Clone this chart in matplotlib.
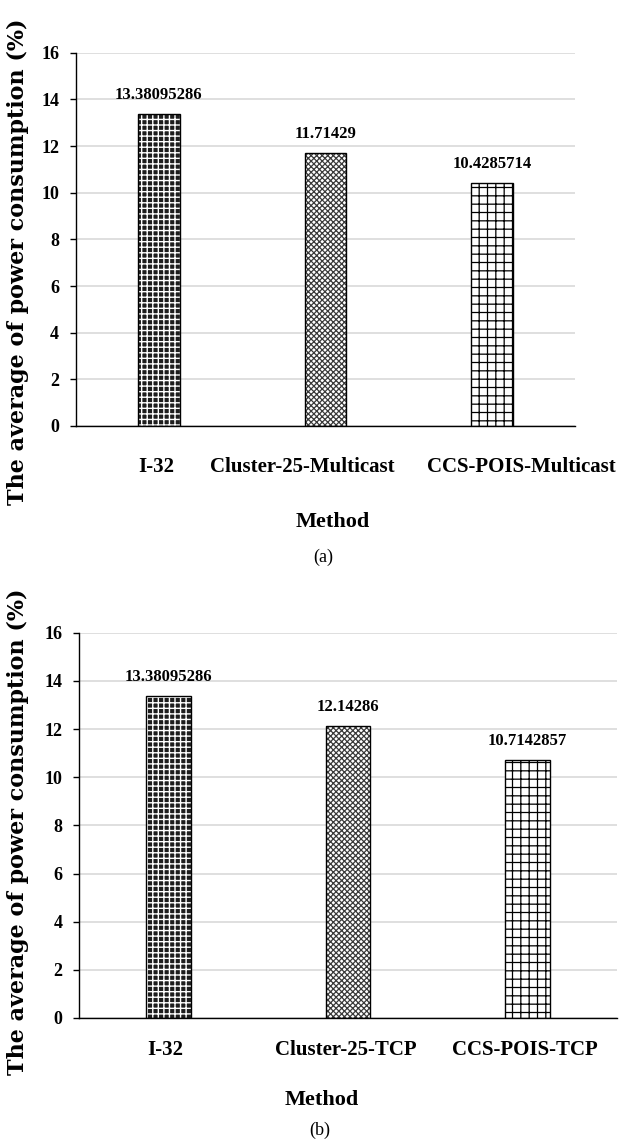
import matplotlib
matplotlib.use("Agg")
import matplotlib.pyplot as plt
from matplotlib.transforms import ScaledTranslation

# ---- data ----
methods_a = ["I-32", "Cluster-25-Multicast", "CCS-POIS-Multicast"]
values_a = [13.38095286, 11.71429, 10.4285714]
labels_a = ["13.38095286", "11.71429", "10.4285714"]

methods_b = ["I-32", "Cluster-25-TCP", "CCS-POIS-TCP"]
values_b = [13.38095286, 12.14286, 10.7142857]
labels_b = ["13.38095286", "12.14286", "10.7142857"]

yticks = [0, 2, 4, 6, 8, 10, 12, 14, 16]
ylabel = "The average of power consumption (%)"
xlabel = "Method"

W, H = 619, 1141
fig = plt.figure(figsize=(W / 100, H / 100), dpi=100)

serif = ["Liberation Serif", "DejaVu Serif"]
# per-bar fill styles: (facecolor, hatch, hatch colour, hatch linewidth)
styles = [("#1e1e1e", "+++", "white", 1.0),
          ("white", "xxxxxx", "#3a3a3a", 0.9),
          ("white", "++", "black", 0.9)]


def draw(rect, methods, values, labels, label_y_px, label_shift_px):
    ax = fig.add_axes(rect)
    x = list(range(len(methods)))
    for i in x:
        fc, h, hc, hlw = styles[i]
        with plt.rc_context({"hatch.linewidth": hlw}):
            ax.bar(x[i], values[i], width=0.25, color=fc,
                   edgecolor=hc, hatch=h, linewidth=0, zorder=2)
    ax.bar(x, values, width=0.25, fill=False, edgecolor="black",
           linewidth=1.0, zorder=3)
    for xi, v, lab in zip(x, values, labels):
        ax.text(xi, v + 0.45, lab, ha="center", va="bottom",
                fontfamily=serif, fontweight="bold", fontsize=12, zorder=4)
    ax.set_xlim(-0.5, len(methods) - 0.5)
    ax.set_ylim(0, 16)
    ax.set_yticks(yticks)
    ax.set_yticklabels([str(t) for t in yticks], fontfamily=serif,
                       fontweight="bold", fontsize=13)
    ax.set_xticks(x)
    ax.set_xticklabels([])
    base = ax.get_xaxis_transform()
    for xi, m, dx in zip(x, methods, label_shift_px):
        tr = base + ScaledTranslation(dx / 100, -label_y_px / 100,
                                      fig.dpi_scale_trans)
        ax.text(xi, 0, m, transform=tr, ha="center", va="center",
                fontfamily=serif, fontweight="bold", fontsize=15,
                clip_on=False)
    ax.tick_params(axis="x", length=0)
    ax.tick_params(axis="y", length=4, width=1, direction="out", pad=8)
    ax.yaxis.grid(True, color="#d9d9d9", linewidth=1.2, zorder=0)
    ax.set_axisbelow(True)
    for s in ["top", "right"]:
        ax.spines[s].set_visible(False)
    for s in ["left", "bottom"]:
        ax.spines[s].set_linewidth(1.0)
        ax.spines[s].set_color("black")
    return ax


def fx(px):
    return px / W


def fy(py):
    return 1 - py / H


draw([fx(75.7), fy(426), fx(575) - fx(75.7), fy(52.7) - fy(426)],
     methods_a, values_a, labels_a, 41, [-3, -23, 30])
draw([fx(79), fy(1018), fx(617) - fx(79), fy(632.7) - fy(1018)],
     methods_b, values_b, labels_b, 32, [-3, -2, -2])

fig.text(fx(18), fy(262), ylabel, rotation=90, ha="center", va="center",
         fontfamily="DejaVu Serif", fontweight="bold", fontsize=16)
fig.text(fx(18), fy(832), ylabel, rotation=90, ha="center", va="center",
         fontfamily="DejaVu Serif", fontweight="bold", fontsize=16)

fig.text(fx(333), fy(522), xlabel, ha="center", va="center",
         fontfamily=serif, fontweight="bold", fontsize=16)
fig.text(fx(322), fy(1100), xlabel, ha="center", va="center",
         fontfamily=serif, fontweight="bold", fontsize=16)

fig.text(fx(323), fy(557), "(a)", ha="center", va="center",
         fontfamily=serif, fontsize=13)
fig.text(fx(320), fy(1130), "(b)", ha="center", va="center",
         fontfamily=serif, fontsize=13)

fig.savefig("out.png", dpi=100)
